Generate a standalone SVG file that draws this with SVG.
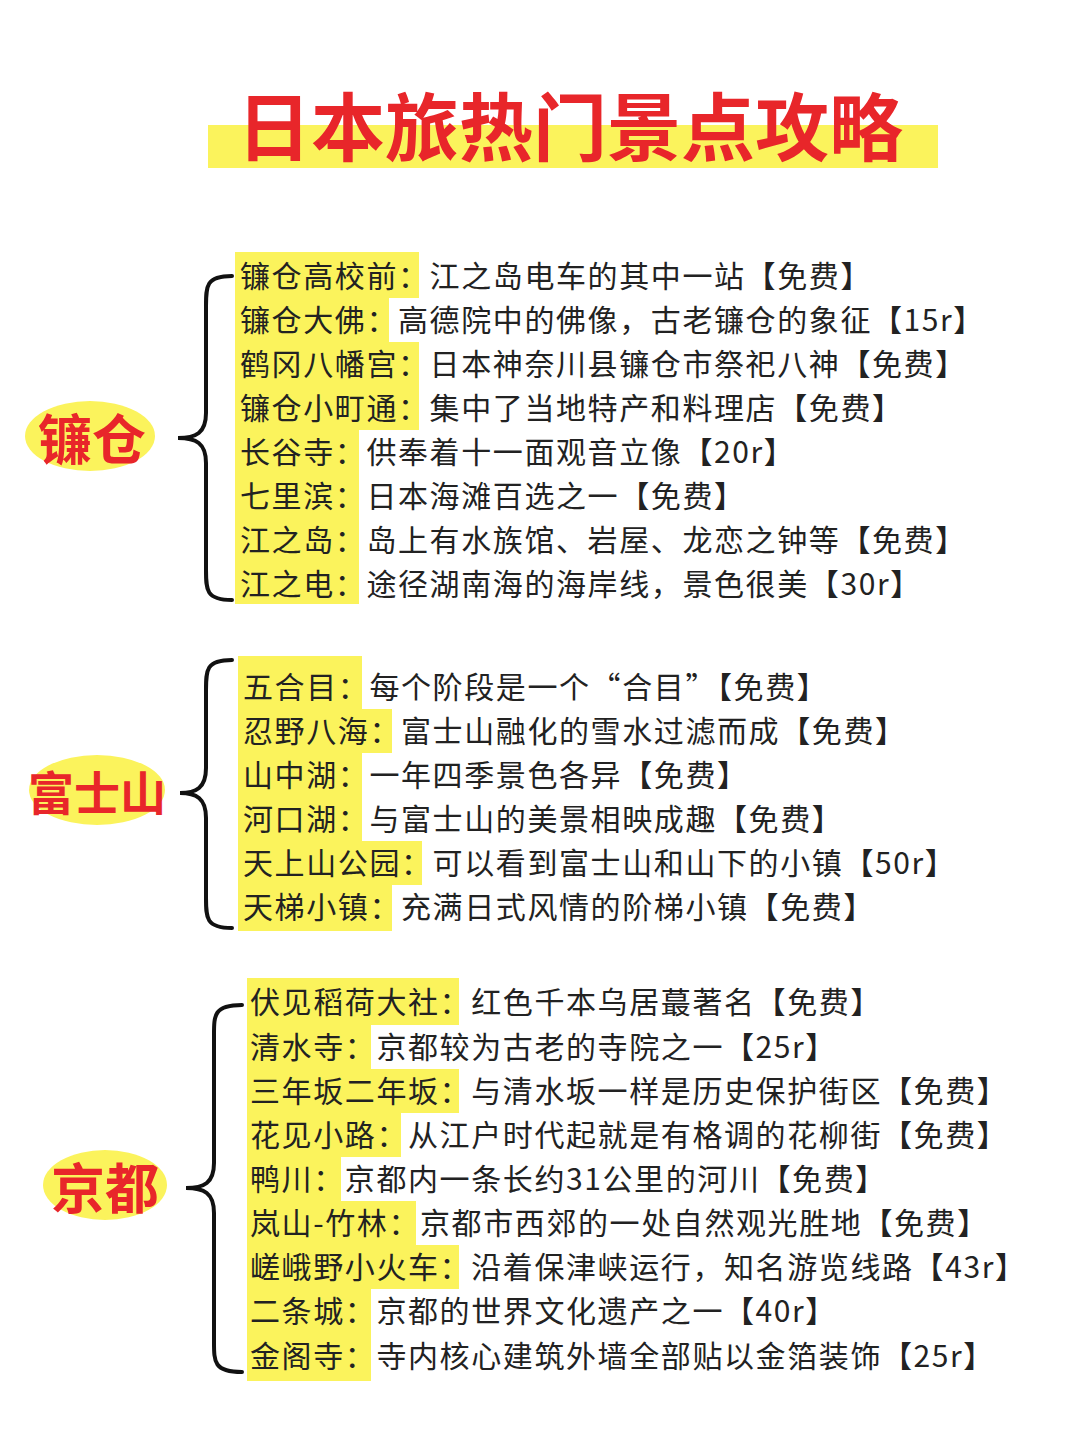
<svg xmlns="http://www.w3.org/2000/svg" width="1080" height="1443" viewBox="0 0 1080 1443">
<style>
.t{font-family:"Noto Sans CJK SC","Noto Sans",sans-serif;font-size:30px;fill:#222;letter-spacing:1.6px}
.h{fill:#fbf35c}
.sec{font-family:"Noto Sans CJK SC",sans-serif;font-size:54px;font-weight:bold;fill:#e8262a;text-anchor:middle}
.br{fill:none;stroke:#111;stroke-width:4;stroke-linecap:round}
</style>
<rect width="1080" height="1443" fill="#fff"/>
<g id="title">
<rect x="208" y="125" width="730" height="43" class="h"/>
<text x="570" y="122" text-anchor="middle" dominant-baseline="central" font-family="Noto Sans CJK SC,sans-serif" font-size="74" font-weight="bold" fill="#e8262a">日本旅热门景点攻略</text>
</g>
<g id="connectors">
<path class="br" d="M232 276 C206 276 206 286 206 306 L206 413 C206 433 196 438 178 438 C196 438 206 443 206 463 L206 570 C206 590 206 600 232 600"/>
<path class="br" d="M232 660 C206 660 206 670 206 690 L206 768 C206 788 196 793 180 793 C196 793 206 798 206 818 L206 898 C206 918 206 928 232 928"/>
<path class="br" d="M242 1005 C214 1005 214 1015 214 1035 L214 1163 C214 1183 204 1188 186 1188 C204 1188 214 1193 214 1213 L214 1342 C214 1362 214 1372 242 1372"/>
</g>
<g id="kamakura">
<ellipse cx="90" cy="436" rx="65" ry="35" class="h"/>
<text x="92" y="436" class="sec" dominant-baseline="central">镰仓</text>
<rect x="235" y="252" width="184" height="46" class="h"/>
<rect x="235" y="298" width="154" height="44" class="h"/>
<rect x="235" y="342" width="184" height="44" class="h"/>
<rect x="235" y="386" width="184" height="44" class="h"/>
<rect x="235" y="430" width="124" height="44" class="h"/>
<rect x="235" y="474" width="124" height="44" class="h"/>
<rect x="235" y="518" width="124" height="44" class="h"/>
<rect x="235" y="562" width="124" height="42" class="h"/>
<g class="t">
<text x="240" y="287">镰仓高校前：江之岛电车的其中一站【免费】</text>
<text x="240" y="331">镰仓大佛：高德院中的佛像，古老镰仓的象征【15r】</text>
<text x="240" y="375">鹤冈八幡宫：日本神奈川县镰仓市祭祀八神【免费】</text>
<text x="240" y="419">镰仓小町通：集中了当地特产和料理店【免费】</text>
<text x="240" y="463">长谷寺：供奉着十一面观音立像【20r】</text>
<text x="240" y="507">七里滨：日本海滩百选之一【免费】</text>
<text x="240" y="551">江之岛：岛上有水族馆、岩屋、龙恋之钟等【免费】</text>
<text x="240" y="595">江之电：途径湖南海的海岸线，景色很美【30r】</text>
</g>
</g>
<g id="fuji">
<ellipse cx="97" cy="790" rx="68" ry="35" class="h"/>
<text x="97" y="790" class="sec" style="font-size:46px" dominant-baseline="central">富士山</text>
<rect x="238" y="656" width="124" height="53" class="h"/>
<rect x="238" y="709" width="154" height="44" class="h"/>
<rect x="238" y="753" width="124" height="44" class="h"/>
<rect x="238" y="797" width="124" height="44" class="h"/>
<rect x="238" y="841" width="184" height="44" class="h"/>
<rect x="238" y="885" width="154" height="46" class="h"/>
<g class="t">
<text x="243" y="698">五合目：每个阶段是一个“合目”【免费】</text>
<text x="243" y="742">忍野八海：富士山融化的雪水过滤而成【免费】</text>
<text x="243" y="786">山中湖：一年四季景色各异【免费】</text>
<text x="243" y="830">河口湖：与富士山的美景相映成趣【免费】</text>
<text x="243" y="874">天上山公园：可以看到富士山和山下的小镇【50r】</text>
<text x="243" y="918">天梯小镇：充满日式风情的阶梯小镇【免费】</text>
</g>
</g>
<g id="kyoto">
<ellipse cx="105" cy="1185" rx="62" ry="35" class="h"/>
<text x="105" y="1185" class="sec" dominant-baseline="central">京都</text>
<rect x="247" y="978" width="212" height="47" class="h"/>
<rect x="247" y="1025" width="124" height="44" class="h"/>
<rect x="247" y="1069" width="212" height="44" class="h"/>
<rect x="247" y="1113" width="154" height="44" class="h"/>
<rect x="247" y="1157" width="94" height="44" class="h"/>
<rect x="247" y="1201" width="169" height="44" class="h"/>
<rect x="247" y="1245" width="212" height="44" class="h"/>
<rect x="247" y="1289" width="124" height="44" class="h"/>
<rect x="247" y="1333" width="124" height="48" class="h"/>
<g class="t">
<text x="250" y="1013">伏见稻荷大社：红色千本乌居蕞著名【免费】</text>
<text x="250" y="1058">清水寺：京都较为古老的寺院之一【25r】</text>
<text x="250" y="1102">三年坂二年坂：与清水坂一样是历史保护街区【免费】</text>
<text x="250" y="1146">花见小路：从江户时代起就是有格调的花柳街【免费】</text>
<text x="250" y="1190">鸭川：京都内一条长约31公里的河川【免费】</text>
<text x="250" y="1234">岚山-竹林：京都市西郊的一处自然观光胜地【免费】</text>
<text x="250" y="1278">嵯峨野小火车：沿着保津峡运行，知名游览线路【43r】</text>
<text x="250" y="1322">二条城：京都的世界文化遗产之一【40r】</text>
<text x="250" y="1367">金阁寺：寺内核心建筑外墙全部贴以金箔装饰【25r】</text>
</g>
</g>
</svg>
